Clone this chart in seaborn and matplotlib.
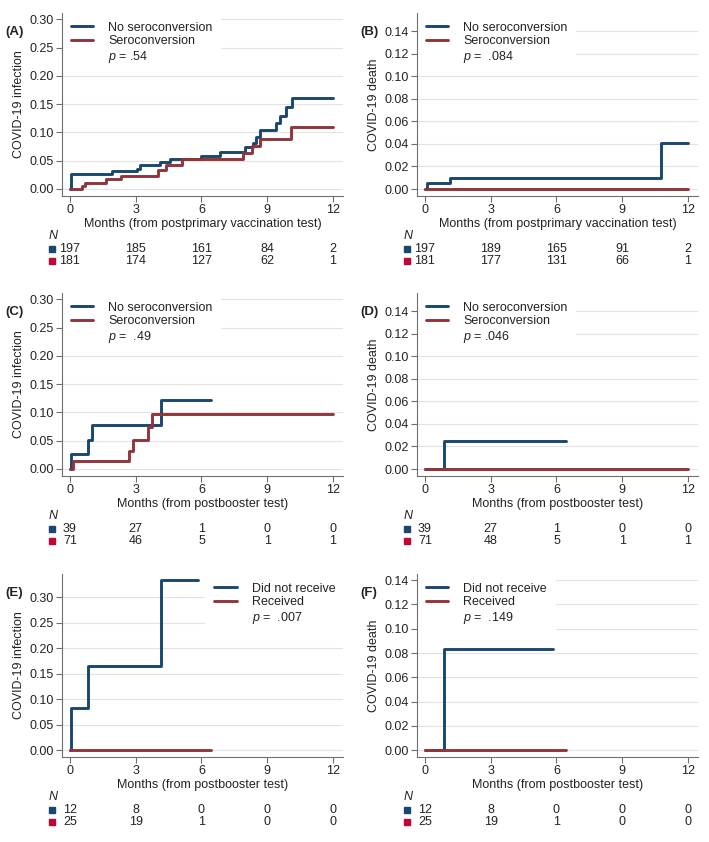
import numpy as np
import pandas as pd
import matplotlib
matplotlib.use("Agg")
import matplotlib.pyplot as plt
import matplotlib.transforms as mtransforms
from matplotlib.lines import Line2D
import seaborn as sns

sns.set_theme(style="white")
plt.rcParams['font.family'] = ['Liberation Sans', 'DejaVu Sans']
plt.rcParams['mathtext.fontset'] = 'custom'
plt.rcParams['mathtext.it'] = 'Liberation Sans:italic'
plt.rcParams['mathtext.rm'] = 'Liberation Sans'

BLUE = '#1a476f'
RED = '#90353b'
RED_SQ = '#c10534'

# Cumulative incidence curves (months, cumulative value)
a_blue_t = [0, 0.05, 1.9, 3.04, 3.2, 4.1, 4.56, 6.0, 6.84, 7.98, 8.36, 8.5, 8.66, 9.42, 9.57, 9.88, 10.15, 12]
a_blue_v = [0, 0.026, 0.031, 0.036, 0.042, 0.047, 0.053, 0.059, 0.065, 0.075, 0.082, 0.092, 0.104, 0.117, 0.129, 0.144, 0.161, 0.161]
a_red_t = [0, 0.53, 0.68, 1.64, 2.31, 4.03, 4.4, 5.1, 7.9, 8.3, 8.66, 10.1, 12]
a_red_v = [0, 0.005, 0.011, 0.017, 0.023, 0.034, 0.042, 0.053, 0.064, 0.076, 0.089, 0.109, 0.109]

b_blue_t = [0, 0.1, 1.14, 10.76, 12]
b_blue_v = [0, 0.005, 0.010, 0.041, 0.041]
b_red_t = [0, 12]
b_red_v = [0, 0]

c_blue_t = [0, 0.05, 0.84, 0.99, 4.15, 6.43]
c_blue_v = [0, 0.026, 0.051, 0.077, 0.122, 0.122]
c_red_t = [0, 0.15, 2.69, 2.89, 3.54, 3.72, 12]
c_red_v = [0, 0.014, 0.032, 0.052, 0.074, 0.097, 0.097]

d_blue_t = [0, 0.88, 6.43]
d_blue_v = [0, 0.025, 0.025]
d_red_t = [0, 12]
d_red_v = [0, 0]

e_blue_t = [0, 0.05, 0.84, 4.15, 5.85]
e_blue_v = [0, 0.083, 0.165, 0.333, 0.333]
e_red_t = [0, 6.43]
e_red_v = [0, 0]

f_blue_t = [0, 0.88, 5.85]
f_blue_v = [0, 0.083, 0.083]
f_red_t = [0, 6.43]
f_red_v = [0, 0]

# Numbers at risk at months 0, 3, 6, 9, 12
a_risk = ([197, 185, 161, 84, 2], [181, 174, 127, 62, 1])
b_risk = ([197, 189, 165, 91, 2], [181, 177, 131, 66, 1])
c_risk = ([39, 27, 1, 0, 0], [71, 46, 5, 1, 1])
d_risk = ([39, 27, 1, 0, 0], [71, 48, 5, 1, 1])
e_risk = ([12, 8, 0, 0, 0], [25, 19, 1, 0, 0])
f_risk = ([12, 8, 0, 0, 0], [25, 19, 1, 0, 0])

risk_months = [0, 3, 6, 9, 12]

sero_groups = ['No seroconversion', 'Seroconversion']
boost_groups = ['Did not receive', 'Received']

panels = [
    dict(tag='(A)', curves=(a_blue_t, a_blue_v, a_red_t, a_red_v), risk=a_risk,
         groups=sero_groups, p='.54', ylabel='COVID-19 infection',
         xlabel='Months (from postprimary vaccination test)'),
    dict(tag='(B)', curves=(b_blue_t, b_blue_v, b_red_t, b_red_v), risk=b_risk,
         groups=sero_groups, p=' .084', ylabel='COVID-19 death',
         xlabel='Months (from postprimary vaccination test)'),
    dict(tag='(C)', curves=(c_blue_t, c_blue_v, c_red_t, c_red_v), risk=c_risk,
         groups=sero_groups, p=' .49', ylabel='COVID-19 infection',
         xlabel='Months (from postbooster test)'),
    dict(tag='(D)', curves=(d_blue_t, d_blue_v, d_red_t, d_red_v), risk=d_risk,
         groups=sero_groups, p='.046', ylabel='COVID-19 death',
         xlabel='Months (from postbooster test)'),
    dict(tag='(E)', curves=(e_blue_t, e_blue_v, e_red_t, e_red_v), risk=e_risk,
         groups=boost_groups, p=' .007', ylabel='COVID-19 infection',
         xlabel='Months (from postbooster test)'),
    dict(tag='(F)', curves=(f_blue_t, f_blue_v, f_red_t, f_red_v), risk=f_risk,
         groups=boost_groups, p=' .149', ylabel='COVID-19 death',
         xlabel='Months (from postbooster test)'),
]

W, H = 709, 842
fig = plt.figure(figsize=(W / 100, H / 100), dpi=100)

lefts = [62, 417]
tops = [13, 293, 574]
ax_w, ax_h = 281, 183
ylims = [(-0.0124, 0.311), (-0.0062, 0.156),
         (-0.0124, 0.311), (-0.0062, 0.156),
         (-0.013, 0.3457), (-0.0055, 0.145)]
legend_x = [0.0, 0.0, 0.0, 0.0, 0.51, 0.0]

FS = 9

for i, p in enumerate(panels):
    r, c = divmod(i, 2)
    l, t = lefts[c], tops[r]
    ax = fig.add_axes([l / W, 1 - (t + ax_h) / H, ax_w / W, ax_h / H])

    bt, bv, rt, rv = p['curves']
    g1, g2 = p['groups']
    df = pd.concat([
        pd.DataFrame({'month': bt, 'value': bv, 'group': g1}),
        pd.DataFrame({'month': rt, 'value': rv, 'group': g2}),
    ], ignore_index=True)
    sns.lineplot(data=df, x='month', y='value', hue='group', hue_order=[g1, g2],
                 palette=[BLUE, RED], drawstyle='steps-post', lw=2.1,
                 estimator=None, legend=False, ax=ax, zorder=3)

    infection = 'infection' in p['ylabel']
    if infection:
        ax.set_yticks(np.arange(0, 0.301, 0.05))
    else:
        ax.set_yticks(np.arange(0, 0.141, 0.02))
    ax.yaxis.set_major_formatter(matplotlib.ticker.FormatStrFormatter('%.2f'))
    ax.set_ylim(*ylims[i])
    ax.set_xlim(-0.365, 12.46)
    ax.set_xticks(risk_months)
    ax.set_xticklabels([str(m) for m in risk_months])

    ax.grid(axis='y', color='#e3e3e3', lw=0.8, zorder=0)
    ax.grid(axis='x', visible=False)
    for s in ['top', 'right']:
        ax.spines[s].set_visible(False)
    for s in ['left', 'bottom']:
        ax.spines[s].set_color('#6e6e6e')
        ax.spines[s].set_linewidth(0.8)
        ax.spines[s].set_zorder(4)
    ax.tick_params(axis='both', which='major', direction='out', length=4, width=0.8,
                   color='#6e6e6e', labelsize=FS, labelcolor='#222222', pad=2, left=True, bottom=True)

    ax.set_ylabel(p['ylabel'], fontsize=FS, color='#222222', labelpad=3)
    ax.set_xlabel(p['xlabel'], fontsize=FS, color='#222222', labelpad=1)

    handles = [Line2D([], [], color=BLUE, lw=2.1),
               Line2D([], [], color=RED, lw=2.1),
               Line2D([], [], color='none')]
    labels = [g1, g2, r'$\mathit{p}$ = ' + p['p']]
    leg = ax.legend(handles, labels, loc='upper left', bbox_to_anchor=(legend_x[i], 1.0),
                    frameon=True, framealpha=1, facecolor='white', edgecolor='none',
                    fontsize=FS, handlelength=1.8, handletextpad=1.2, labelspacing=0.12,
                    borderpad=0.7, borderaxespad=0, fancybox=False)
    for txt in leg.get_texts():
        txt.set_color('#222222')
    leg.set_zorder(2)

    # number-at-risk table below the axes
    trans = mtransforms.blended_transform_factory(ax.transData, ax.transAxes)
    y_n = -40 / ax_h
    y_r1 = -53 / ax_h
    y_r2 = -65 / ax_h
    ax.text(-0.96, y_n, 'N', style='italic', fontsize=FS, color='#222222',
            ha='left', va='center', transform=trans)
    for yy, vals, col in [(y_r1, p['risk'][0], BLUE), (y_r2, p['risk'][1], RED_SQ)]:
        ax.plot([-0.8], [yy], marker='s', ms=4.2, color=col, transform=trans, clip_on=False)
        for m, v in zip(risk_months, vals):
            ax.text(m, yy, str(v), fontsize=FS, color='#222222', ha='center', va='center',
                    transform=trans)

    fig.text((l - 57) / W, 1 - (t + 19) / H, p['tag'], fontsize=FS + 0.5, fontweight='bold',
             color='#222222', ha='left', va='center')

fig.savefig('out.png', dpi=100)
